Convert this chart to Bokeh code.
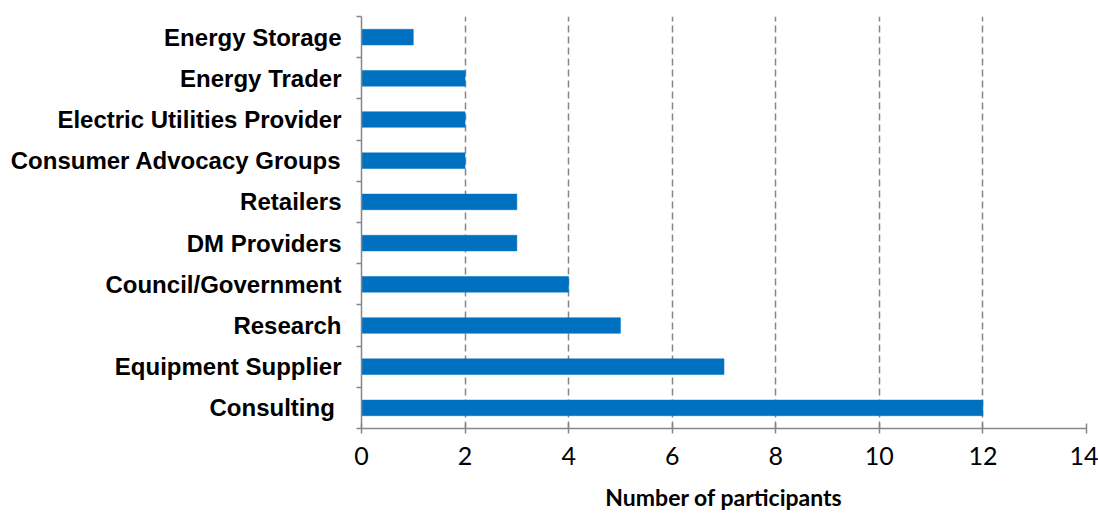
import numpy as np
from bokeh.plotting import figure
from bokeh.models import FixedTicker, ColumnDataSource
from bokeh.embed import file_html
from bokeh.resources import INLINE

categories = ["Consulting ", "Equipment Supplier", "Research", "Council/Government",
              "DM Providers", "Retailers", "Consumer Advocacy Groups",
              "Electric Utilities Provider", "Energy Trader", "Energy Storage"]
participants = [12, 7, 5, 4, 3, 3, 2, 2, 2, 1]
x_ticks = [0, 2, 4, 6, 8, 10, 12, 14]
x_label = "Number of participants"

pos = np.arange(len(categories)) + 0.5
src = ColumnDataSource(dict(y=pos, v=participants, cat=categories))

p = figure(width=1098, height=513, x_range=(0, 14), y_range=(0, len(categories)),
           output_backend="svg", toolbar_location=None,
           min_border_left=361, min_border_right=12, min_border_top=16, min_border_bottom=85)
p.outline_line_color = None
p.background_fill_color = "white"
p.border_fill_color = "white"

p.hbar(y="y", right="v", left=0, height=0.38, source=src,
       fill_color="#0070C0", line_color="#0070C0", line_width=0.5)

# x axis
p.xaxis.ticker = FixedTicker(ticks=x_ticks)
p.xaxis.axis_line_color = "#868686"
p.xaxis.axis_line_width = 1.5
p.xaxis.major_tick_line_color = "#868686"
p.xaxis.major_tick_line_width = 1.5
p.xaxis.major_tick_in = 5
p.xaxis.major_tick_out = 5
p.xaxis.minor_tick_line_color = None
p.xaxis.major_label_text_font = "Lato"
p.xaxis.major_label_text_font_size = "25px"
p.xaxis.major_label_text_color = "black"
p.xaxis.major_label_standoff = 13
p.xaxis.axis_label = x_label
p.xaxis.axis_label_text_font = "Lato"
p.xaxis.axis_label_text_font_style = "bold"
p.xaxis.axis_label_text_font_size = "23px"
p.xaxis.axis_label_text_color = "black"
p.xaxis.axis_label_standoff = 15

# y axis
p.yaxis.ticker = FixedTicker(ticks=list(pos), minor_ticks=list(range(len(categories) + 1)))
p.yaxis.major_label_overrides = {float(v): c for v, c in zip(pos, categories)}
p.yaxis.axis_line_color = "#868686"
p.yaxis.axis_line_width = 1.5
p.yaxis.major_tick_line_color = None
p.yaxis.major_tick_in = 0
p.yaxis.major_tick_out = 0
p.yaxis.minor_tick_line_color = "#868686"
p.yaxis.minor_tick_line_width = 1.5
p.yaxis.minor_tick_in = 0
p.yaxis.minor_tick_out = 5
p.yaxis.major_label_text_font = "Liberation Sans"
p.yaxis.major_label_text_font_style = "bold"
p.yaxis.major_label_text_font_size = "24px"
p.yaxis.major_label_text_color = "black"
p.yaxis.major_label_standoff = 15

p.ygrid.grid_line_color = None
p.xgrid.grid_line_color = "#868686"
p.xgrid.grid_line_width = 1.5
p.xgrid.grid_line_dash = "7 4"

open("out.html", "w").write(file_html(p, INLINE))
